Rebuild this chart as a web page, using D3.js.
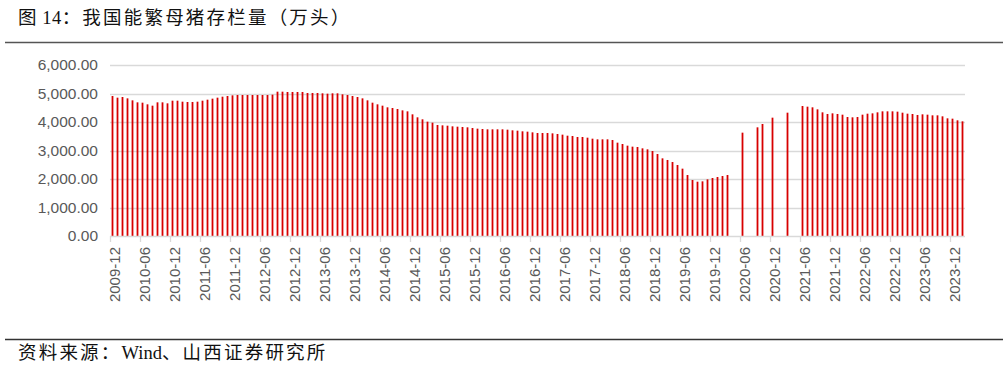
<!DOCTYPE html>
<html lang="zh">
<head>
<meta charset="utf-8">
<title>我国能繁母猪存栏量</title>
<script src="https://d3js.org/d3.v7.min.js"></script>
<style>
  body { margin: 0; background: #fff; }
  svg { display: block; }
</style>
</head>
<body>
<svg width="1007" height="369"></svg>
<script>
// months from 2009-12 to 2024-02
var startYear = 2009, startMonth = 12, monthCount = 171;
var months = [];
for (var i = 0; i < monthCount; i++) {
  var m = startMonth - 1 + i;
  var yy = startYear + Math.floor(m / 12), mm = (m % 12) + 1;
  months.push(yy + "-" + (mm < 10 ? "0" + mm : mm));
}

// 能繁母猪存栏量（万头）, null = no data that month
var sowStock = [
  4912, 4854, 4877, 4830, 4760, 4690, 4678, 4620, 4573, 4690, 4690, 4655,
  4748, 4748, 4713, 4702, 4702, 4713, 4748, 4783, 4819, 4854, 4889, 4912,
  4935, 4947, 4947, 4947, 4947, 4947, 4947, 4947, 4959,
  5064, 5064, 5053, 5053, 5053, 5053, 5018, 5018, 5018, 5006, 4994, 5006,
  5006, 4971, 4947, 4912, 4877, 4830, 4760, 4678, 4620, 4573, 4515, 4491,
  4456, 4409, 4374, 4269, 4164, 4094, 4012, 3977, 3895, 3883, 3871,
  3848, 3836, 3825, 3813, 3789, 3766, 3754, 3743, 3743, 3743, 3743, 3731,
  3708, 3696, 3673, 3661, 3637, 3614, 3614, 3614, 3602, 3579, 3556, 3520,
  3509, 3474, 3474, 3450, 3415, 3392, 3392, 3392, 3368, 3275,
  3228, 3170, 3135, 3123, 3076, 3041, 2982, 2877, 2725, 2667, 2596, 2491,
  2363, 2140, 1965, 1906, 1918, 1988, 2035, 2070, 2105, 2140,
  null, null, 3626, null, null, 3813, 3930, null, 4152, null, null, 4327,
  null, null,
  4561, 4538, 4515, 4444, 4339, 4281, 4304, 4281, 4257, 4175, 4164, 4175,
  4257, 4292, 4304, 4339, 4374, 4374, 4374, 4363, 4327, 4292, 4281, 4246,
  4269, 4257, 4234, 4234, 4199, 4129, 4117, 4059, 4023
];

var yTicks = [0, 1000, 2000, 3000, 4000, 5000, 6000];

var svg = d3.select("svg");

var x = d3.scaleBand().domain(months).range([110, 965]).paddingInner(0.64).paddingOuter(0.32);
var y = d3.scaleLinear().domain([0, 6000]).range([236, 65]);

// text with spaced CJK parts and tight latin parts
function headText(yPos, parts) {
  var t = svg.append("text")
    .attr("x", 18).attr("y", yPos)
    .attr("font-family", "'Liberation Serif', 'Noto Sans CJK SC', serif")
    .attr("font-size", 18.5).attr("fill", "#111");
  parts.forEach(function(p) {
    t.append("tspan").attr("letter-spacing", p[1]).text(p[0]);
  });
}

headText(24, [["图 14", 0.5], ["：我国能繁母猪存栏量（万头）", 2.2]]);
headText(359, [["资料来源：", 2.2], ["Wind", 0], ["、山西证券研究所", 2.2]]);

svg.append("line").attr("x1", 5).attr("x2", 1003).attr("y1", 42.5).attr("y2", 42.5)
  .attr("stroke", "#555").attr("stroke-width", 1.3);
svg.append("line").attr("x1", 5).attr("x2", 1003).attr("y1", 339.5).attr("y2", 339.5)
  .attr("stroke", "#333").attr("stroke-width", 1.3);

// gridlines
svg.append("g").selectAll("line").data(yTicks.slice(1)).enter().append("line")
  .attr("x1", 110).attr("x2", 965)
  .attr("y1", function(d) { return Math.round(y(d)) + 0.5; })
  .attr("y2", function(d) { return Math.round(y(d)) + 0.5; })
  .attr("stroke", "#d9d9d9").attr("stroke-width", 1.3);

// y labels
var yAxis = d3.axisLeft(y).tickValues(yTicks).tickSize(0).tickPadding(12)
  .tickFormat(d3.format(",.2f"));
var gy = svg.append("g").attr("transform", "translate(110,0)").call(yAxis);
gy.select(".domain").remove();
gy.selectAll("text").attr("font-family", "'Liberation Sans', Arial, sans-serif")
  .attr("font-size", 15.5).attr("fill", "#595959");

// bars
svg.append("g").selectAll("rect")
  .data(months.map(function(m, i) { return { m: m, v: sowStock[i] }; })
    .filter(function(d) { return d.v != null; }))
  .enter().append("rect")
  .attr("x", function(d) { return x(d.m); })
  .attr("width", x.bandwidth())
  .attr("y", function(d) { return y(d.v); })
  .attr("height", function(d) { return y(0) - y(d.v); })
  .attr("fill", "#d80000");

// x axis
var labelMonths = months.filter(function(d, i) { return i % 6 === 0 && i <= 168; });
var step = x.step();
svg.append("line").attr("x1", 110).attr("x2", 965).attr("y1", 236.5).attr("y2", 236.5)
  .attr("stroke", "#d9d9d9").attr("stroke-width", 1.3);
svg.append("g").selectAll("line").data(labelMonths).enter().append("line")
  .attr("x1", function(d) { return months.indexOf(d) * step + 110.5; })
  .attr("x2", function(d) { return months.indexOf(d) * step + 110.5; })
  .attr("y1", 236).attr("y2", 242)
  .attr("stroke", "#d9d9d9").attr("stroke-width", 1.3);

svg.append("g").selectAll("text").data(labelMonths).enter().append("text")
  .attr("transform", function(d) {
    var cx = x(d) + x.bandwidth() / 2 + 2;
    return "translate(" + cx + ",247) rotate(-90)";
  })
  .attr("text-anchor", "end")
  .attr("dy", "0.35em")
  .attr("font-family", "'Liberation Sans', Arial, sans-serif")
  .attr("font-size", 15).attr("fill", "#595959")
  .text(function(d) { return d; });
</script>
</body>
</html>
